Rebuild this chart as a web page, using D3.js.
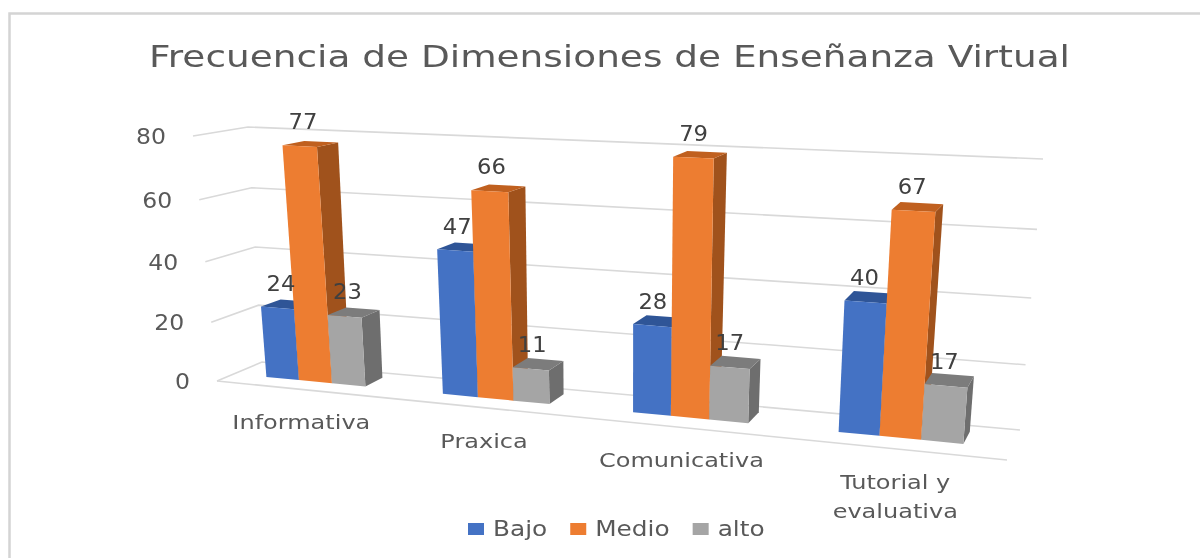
<!DOCTYPE html>
<html><head><meta charset="utf-8">
<script src="https://cdn.jsdelivr.net/npm/d3@7/dist/d3.min.js"></script>
<style>html,body{margin:0;padding:0;background:#fff;overflow:hidden}
svg{display:block;filter:blur(0.7px)}text{font-family:"DejaVu Sans",sans-serif}</style></head>
<body><svg id="c" width="1200" height="558"></svg>
<script>
const categories = ["Informativa","Praxica","Comunicativa","Tutorial y|evaluativa"];
const seriesNames = ["Bajo","Medio","alto"];
const bajo = [24,47,28,40];
const medio = [77,66,79,67];
const alto = [23,11,17,17];
const yTicks = [0,20,40,60,80];
const titleText = "Frecuencia de Dimensiones de Enseñanza Virtual";
const seriesValues = [bajo,medio,alto];
const fronts = ["#4472C4","#ED7D31","#A5A5A5"];
const tops = ["#2F5597","#C0601F","#7C7C7C"];
const sides = ["#2F5597","#A0521C","#6E6E6E"];

function homography(a,b,c,d){
  const dx1=b[0]-c[0],dx2=d[0]-c[0],sx=a[0]-b[0]+c[0]-d[0];
  const dy1=b[1]-c[1],dy2=d[1]-c[1],sy=a[1]-b[1]+c[1]-d[1];
  const den=dx1*dy2-dx2*dy1;
  const g=(sx*dy2-dx2*sy)/den,h=(dx1*sy-sx*dy1)/den;
  const A=b[0]-a[0]+g*b[0],B=d[0]-a[0]+h*d[0],C=a[0];
  const D=b[1]-a[1]+g*b[1],E=d[1]-a[1]+h*d[1],F=a[1];
  return (u,v)=>{const w=g*u+h*v+1;return [(A*u+B*v+C)/w,(D*u+E*v+F)/w];};
}
const frontPlane = homography([217,381],[1007,460],[1030,176],[193,136]);
const backPlane  = homography([262,362],[1020,430],[1043,159],[248,127]);
function project(u,v,d){
  const f=frontPlane(u,v),b=backPlane(u,v);
  return [f[0]+(b[0]-f[0])*d,f[1]+(b[1]-f[1])*d];
}
const vScale = d3.scaleLinear().domain([0,80]).range([0,1]);
const cat = d3.scaleBand().domain(categories).range([-0.006,1.0]).paddingInner(0.43).paddingOuter(0.215);
const ser = d3.scaleBand().domain(seriesNames).range([0,cat.bandwidth()]);
const d0=0.38,d1=0.8;
const svg=d3.select("#c");
const line=d3.line();
function addText(x,y,size,fill,str,anchor,k){
  const t=svg.append("text").attr("x",x).attr("y",y).attr("font-size",size).attr("fill",fill)
    .attr("text-anchor",anchor||"start").text(str);
  const w=t.node().getComputedTextLength()*(k||1);
  t.attr("textLength",w).attr("lengthAdjust","spacingAndGlyphs");
  return w;
}

svg.append("rect").attr("x",9.5).attr("y",13.5).attr("width",1300).attr("height",700)
  .attr("fill","#fff").attr("stroke","#d4d4d4").attr("stroke-width",2.5);

svg.append("text").attr("x",149).attr("y",67).attr("font-size",31).attr("fill","#595959")
  .attr("textLength",921).attr("lengthAdjust","spacingAndGlyphs").text(titleText);

yTicks.forEach(t=>{
  const v=vScale(t);
  svg.append("path").attr("fill","none").attr("stroke","#d9d9d9").attr("stroke-width",1.6)
    .attr("d",line([project(0,v,0),project(0,v,1),project(1,v,1)]));
  const p=project(0,v,0);
  addText(p[0]-27,p[1]+8,21,"#595959",t,"end",1.12);
});
svg.append("path").attr("fill","none").attr("stroke","#d9d9d9").attr("stroke-width",1.6)
  .attr("d",line([project(0,0,0),project(1,0,0)]));

categories.forEach(c=>{
  seriesNames.forEach((s,si)=>{
    const val=seriesValues[si][categories.indexOf(c)];
    const u0=cat(c)+ser(s),u1=u0+ser.bandwidth(),v=vScale(val);
    const face=(pts,col)=>svg.append("path").attr("fill",col).attr("d",line(pts)+"Z");
    face([project(u1,0,d0),project(u1,0,d1),project(u1,v,d1),project(u1,v,d0)],sides[si]);
    face([project(u0,v,d0),project(u1,v,d0),project(u1,v,d1),project(u0,v,d1)],tops[si]);
    face([project(u0,0,d0),project(u1,0,d0),project(u1,v,d0),project(u0,v,d0)],fronts[si]);
  });
});
categories.forEach((c,ci)=>{
  seriesNames.forEach((s,si)=>{
    const val=seriesValues[si][ci];
    const u=cat(c)+ser(s)+ser.bandwidth()/2;
    const p=project(u,vScale(val),d0);
    addText(p[0]+4-6*u,p[1]-17,21,"#404040",val,"middle",1.08);
  });
});
categories.forEach(c=>{
  const u=cat(c)+cat.bandwidth()/2;
  const p=project(u,0,0);
  c.split("|").forEach((t,i)=>{
    addText(p[0]+2,p[1]+40+i*29,20,"#595959",t,"middle",1.2);
  });
});
let lx=468;
seriesNames.forEach((s,i)=>{
  svg.append("rect").attr("x",lx).attr("y",523).attr("width",16).attr("height",12).attr("fill",fronts[i]);
  const w=addText(lx+25,536,21,"#595959",s,"start",1.18);
  lx+=25+w+23;
});
</script></body></html>
